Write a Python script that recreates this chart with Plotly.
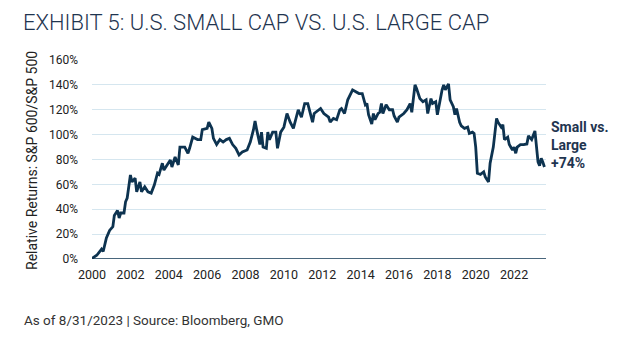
import plotly.graph_objects as go

dates = [
    "2000-01", "2000-04", "2000-07", "2000-08", "2000-10", "2000-12",
    "2001-02", "2001-03", "2001-05", "2001-06", "2001-07", "2001-09", "2001-10", "2001-11",
    "2002-01", "2002-02", "2002-04", "2002-05", "2002-07", "2002-08", "2002-10", "2002-12",
    "2003-02", "2003-04", "2003-06", "2003-07", "2003-09", "2003-10", "2003-12",
    "2004-02", "2004-03", "2004-05", "2004-07", "2004-08", "2004-11",
    "2005-01", "2005-02", "2005-04", "2005-07", "2005-09", "2005-10",
    "2006-01", "2006-02", "2006-04", "2006-05", "2006-07", "2006-09", "2006-11",
    "2007-01", "2007-03", "2007-05", "2007-07", "2007-09", "2007-11",
    "2008-02", "2008-04", "2008-06", "2008-07", "2008-08", "2008-10", "2008-11", "2008-12",
    "2009-02", "2009-03", "2009-04", "2009-06", "2009-08", "2009-09", "2009-11",
    "2010-01", "2010-03", "2010-05", "2010-07", "2010-08", "2010-10", "2010-12",
    "2011-02", "2011-04", "2011-07", "2011-08", "2011-12",
    "2012-02", "2012-05", "2012-06", "2012-08", "2012-10", "2012-12",
    "2013-01", "2013-03", "2013-05", "2013-07", "2013-08", "2013-10", "2013-12",
    "2014-02", "2014-04", "2014-05", "2014-06", "2014-08", "2014-09", "2014-10", "2014-12",
    "2015-01", "2015-02", "2015-03", "2015-05", "2015-07", "2015-09", "2015-10", "2015-12",
    "2016-01", "2016-04", "2016-06", "2016-08", "2016-09", "2016-11", "2016-12",
    "2017-02", "2017-04", "2017-06", "2017-07", "2017-09", "2017-10", "2017-12",
    "2018-01", "2018-02", "2018-04", "2018-05", "2018-06", "2018-08", "2018-09", "2018-11", "2018-12",
    "2019-01", "2019-03", "2019-04", "2019-06", "2019-08", "2019-09", "2019-11", "2019-12",
    "2020-01", "2020-02", "2020-04", "2020-06", "2020-07", "2020-09", "2020-10", "2020-12",
    "2021-02", "2021-03", "2021-05", "2021-06", "2021-07", "2021-09", "2021-10", "2021-12",
    "2022-01", "2022-02", "2022-03", "2022-05", "2022-07", "2022-09", "2022-10", "2022-12",
    "2023-02", "2023-03", "2023-04", "2023-05", "2023-06", "2023-07", "2023-08",
]

relative_returns = [
    0.5, 3, 8, 6, 17, 23,
    26, 35, 39, 33, 37, 37, 46, 49,
    67.5, 62, 65, 54, 62, 54, 58, 54,
    53, 59.5, 69, 68, 77, 71.5, 75.6,
    79.6, 74, 82, 75.6, 90, 90,
    85, 89, 98, 96, 96, 104,
    105, 110, 105, 97, 92, 96, 94,
    96, 97, 92, 89, 83.6, 86,
    87.6, 94, 104, 111, 104, 92, 102, 90,
    89, 102, 96, 102, 102, 89, 102,
    106, 117, 110, 105, 110, 120, 114,
    125, 125, 110, 117, 121,
    117, 114, 110, 113, 112, 120,
    121, 117, 128, 133, 136, 134.5, 133,
    133, 124, 125, 116, 108.5, 117, 112, 117,
    118, 125, 117, 124, 120, 120, 115, 110,
    114, 117, 120, 125, 118, 140, 137,
    129, 126.5, 128, 117, 129, 125, 126.5,
    116, 124, 136, 140, 136, 140.7, 128, 122.5, 116,
    121, 110, 107, 105, 106, 101, 102, 101,
    90, 69, 68, 70, 66, 62, 77, 90,
    113, 110, 106, 108, 96, 98, 92, 87.6,
    90, 85, 90, 92, 92, 92.5, 99, 96,
    103, 90, 78, 75, 81, 78, 74,
]

y_ticks = [0, 20, 40, 60, 80, 100, 120, 140, 160]
y_tick_labels = [f"{v}%" for v in y_ticks]
x_tick_years = list(range(2000, 2023, 2))

title_text = "EXHIBIT 5: U.S. SMALL CAP VS. U.S. LARGE CAP"
y_title = "Relative Returns: S&P 600/S&P 500"
end_label = "Small vs.<br>Large<br>+74%"
footer = "As of 8/31/2023 | Source: Bloomberg, GMO"

navy = "#0d3350"
text_dark = "#222222"

L, R, T, B, W, H = 92, 78, 60, 85, 624, 344
PW, PH = W - L - R, H - T - B

fig = go.Figure()
fig.add_trace(go.Scatter(
    x=dates, y=relative_returns, mode="lines",
    line=dict(color=navy, width=2.8),
    hoverinfo="skip", showlegend=False,
))

fig.update_layout(
    width=W, height=H,
    margin=dict(l=L, r=R, t=T, b=B),
    paper_bgcolor="white", plot_bgcolor="white",
    font=dict(family="Roboto", color=text_dark, size=12),
    title=dict(
        text=title_text, x=23 / W, xanchor="left", xref="container",
        y=1 - 22 / H, yanchor="middle", yref="container",
        font=dict(family="Roboto", size=22, color="#1f3550", weight=300),
    ),
    xaxis=dict(
        type="date",
        range=["2000-01-01", "2023-08-31"],
        tickvals=[f"{y}-01-01" for y in x_tick_years],
        ticktext=[str(y) for y in x_tick_years],
        showgrid=False, zeroline=False, showline=False,
        ticks="", tickfont=dict(size=12.5, color=text_dark),
        ticklabelstandoff=6,
    ),
    yaxis=dict(
        range=[0, 160],
        tickvals=y_ticks, ticktext=y_tick_labels,
        showgrid=True, gridcolor="#d5e6ef", gridwidth=1,
        zeroline=False, showline=False, ticks="",
        tickfont=dict(size=12, color=text_dark),
        ticklabelstandoff=13,
    ),
)

# dark baseline at 0%
fig.add_shape(type="line", xref="paper", yref="y", x0=0, x1=1, y0=0, y1=0,
              line=dict(color=navy, width=1.5))

# y-axis title placed as rotated annotation
fig.add_annotation(
    x=(32 - L) / PW, y=(H - B - 161) / PH, xref="paper", yref="paper",
    text=y_title, showarrow=False, textangle=-90,
    xanchor="center", yanchor="middle",
    font=dict(family="Roboto", size=14, color=text_dark),
)

fig.add_annotation(
    x=dates[-1], y=92, xref="x", yref="y",
    text=f"<b>{end_label}</b>", showarrow=False, xanchor="left", yanchor="middle",
    xshift=5, align="left",
    font=dict(family="Roboto", size=14, color="#1f3550"),
)

fig.add_annotation(
    x=(22 - L) / PW, y=(H - B - 320) / PH, xref="paper", yref="paper",
    xanchor="left", yanchor="middle", text=footer, showarrow=False,
    font=dict(family="Roboto", size=13.5, color="#333333"),
)

fig.write_html("out.html")
